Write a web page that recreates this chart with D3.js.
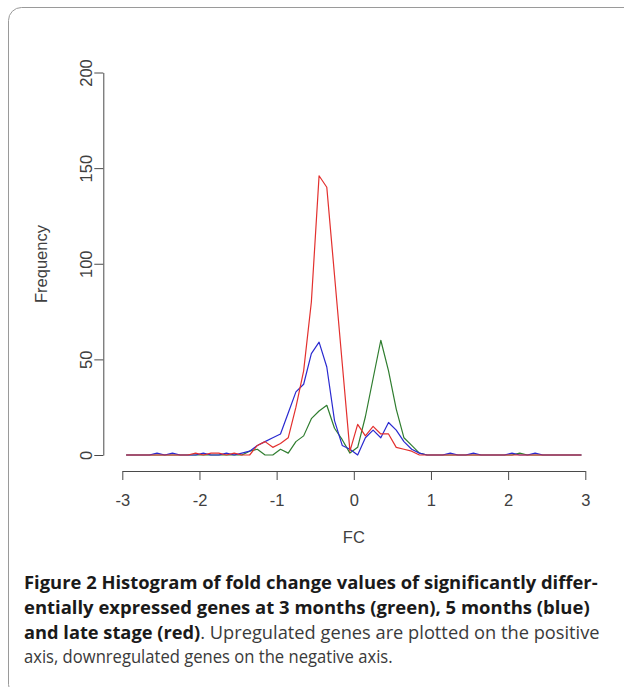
<!DOCTYPE html>
<html lang="en">
<head>
<meta charset="UTF-8">
<title>Figure 2 - Histogram of fold change values</title>
<style>
    body {
        margin: 0;
        padding: 0;
        background: #fff;
    }
    svg {
        display: block;
    }
    .axis path,
    .axis line {
        fill: none;
        stroke: #4a4a4a;
        stroke-width: 1;
    }
    .axis text {
        font-family: "Liberation Sans", Arial, sans-serif;
        font-size: 16.5px;
        fill: #404040;
    }
    .series {
        fill: none;
        stroke-width: 1.2;
        stroke-linejoin: round;
    }
</style>
</head>
<body>
<svg id="chart" width="624" height="687"></svg>

<script src="https://d3js.org/d3.v7.min.js"></script>
<script>
// bin midpoints of the fold change histogram, -2.95 .. 2.95
const binMids = [
    -2.95, -2.85, -2.75, -2.65, -2.55, -2.45, -2.35, -2.25, -2.15, -2.05,
    -1.95, -1.85, -1.75, -1.65, -1.55, -1.45, -1.35, -1.25, -1.15, -1.05,
    -0.95, -0.85, -0.75, -0.65, -0.55, -0.45, -0.35, -0.25, -0.15, -0.05,
     0.05,  0.15,  0.25,  0.35,  0.45,  0.55,  0.65,  0.75,  0.85,  0.95,
     1.05,  1.15,  1.25,  1.35,  1.45,  1.55,  1.65,  1.75,  1.85,  1.95,
     2.05,  2.15,  2.25,  2.35,  2.45,  2.55,  2.65,  2.75,  2.85,  2.95
];

// 3 months (green)
const months3 = [
    0, 0, 0, 0, 0, 0, 0, 0, 0, 0,
    0, 0, 0, 0, 0, 0, 2, 3, 0, 0,
    3, 1, 7, 10, 19, 23, 26, 14, 8, 1,
    4, 20, 40, 60, 44, 24, 9, 5, 1, 0,
    0, 0, 0, 0, 0, 0, 0, 0, 0, 0,
    0, 1, 0, 0, 0, 0, 0, 0, 0, 0
];

// 5 months (blue)
const months5 = [
    0, 0, 0, 0, 1, 0, 1, 0, 0, 0,
    1, 0, 0, 1, 0, 1, 2, 5, 7, 9,
    11, 22, 33, 37, 53, 59, 46, 18, 5, 3,
    0, 9, 13, 9, 17, 13, 7, 3, 1, 0,
    0, 0, 1, 0, 0, 1, 0, 0, 0, 0,
    1, 0, 0, 1, 0, 0, 0, 0, 0, 0
];

// late stage (red)
const lateStage = [
    0, 0, 0, 0, 0, 0, 0, 0, 0, 1,
    0, 1, 1, 0, 1, 0, 0, 5, 7, 4,
    6, 9, 25, 44, 80, 146, 140, 94, 48, 2,
    16, 10, 15, 11, 11, 4, 3, 2, 0, 0,
    0, 0, 0, 0, 0, 0, 0, 0, 0, 0,
    0, 0, 0, 0, 0, 0, 0, 0, 0, 0
];

const xTicks = [-3, -2, -1, 0, 1, 2, 3];
const yTicks = [0, 50, 100, 150, 200];

const captionLines = [
    [{ text: "Figure 2 Histogram of fold change values of significantly differ-", bold: true }],
    [{ text: "entially expressed genes at 3 months (green), 5 months (blue)", bold: true }],
    [{ text: "and late stage (red)", bold: true },
     { text: ". Upregulated genes are plotted on the positive", bold: false }],
    [{ text: "axis, downregulated genes on the negative axis.", bold: false }]
];

const svg = d3.select("#chart");

// panel frame, runs off the right and bottom of the picture
svg.append("rect")
    .attr("x", 8.5)
    .attr("y", 7.5)
    .attr("width", 660)
    .attr("height", 690)
    .attr("rx", 13)
    .attr("fill", "none")
    .attr("stroke", "#9a9a9a")
    .attr("stroke-width", 1);

const x = d3.scaleLinear().domain([-3, 3]).range([122.3, 585.3]);
const y = d3.scaleLinear().domain([0, 200]).range([455, 72.5]);

// x axis
const xAxis = svg.append("g")
    .attr("class", "axis")
    .attr("transform", "translate(0,471)")
    .call(d3.axisBottom(x).tickValues(xTicks).tickSize(9).tickSizeOuter(0)
        .tickFormat(d => d < 0 ? "-" + Math.abs(d) : d));
xAxis.selectAll(".tick text").attr("dy", null).attr("y", 35);

// y axis
const yAxis = svg.append("g")
    .attr("class", "axis")
    .attr("transform", "translate(103.3,0)")
    .call(d3.axisLeft(y).tickValues(yTicks).tickSize(9).tickSizeOuter(0));
yAxis.selectAll(".tick text")
    .attr("x", null).attr("dy", null)
    .attr("text-anchor", "middle")
    .attr("transform", "translate(-11,0) rotate(-90)");

// axis titles
svg.append("text")
    .attr("x", x(0))
    .attr("y", 543)
    .attr("text-anchor", "middle")
    .style("font-family", "'Liberation Sans', Arial, sans-serif")
    .style("font-size", "16.5px")
    .style("fill", "#404040")
    .text("FC");

svg.append("text")
    .attr("transform", "translate(47,264) rotate(-90)")
    .attr("text-anchor", "middle")
    .style("font-family", "'Liberation Sans', Arial, sans-serif")
    .style("font-size", "16.5px")
    .style("fill", "#404040")
    .text("Frequency");

// frequency polygons
const series = [
    { values: months3, color: "#2f7d2f" },
    { values: months5, color: "#2a2ad0" },
    { values: lateStage, color: "#e3302e" }
];

const line = d3.line()
    .x((d, i) => x(binMids[i]))
    .y(d => y(d));

svg.selectAll("path.series")
    .data(series)
    .enter().append("path")
    .attr("class", "series")
    .attr("stroke", d => d.color)
    .attr("d", d => line(d.values));

// caption, each line squeezed to the width it has in the figure
const captionLeft = 24;
const captionWidths = [574, 566, 576, 369];
const capG = svg.append("g");

captionLines.forEach((parts, i) => {
    const t = capG.append("text")
        .attr("x", 0)
        .attr("y", 0)
        .style("font-family", "'Open Sans', 'Noto Sans', sans-serif")
        .style("font-size", "17.5px");
    parts.forEach(p => {
        t.append("tspan")
            .style("font-weight", p.bold ? "700" : "400")
            .style("fill", p.bold ? "#1a1a1a" : "#3a3a3a")
            .text(p.text);
    });
    const w = t.node().getComputedTextLength();
    const sx = captionWidths[i] / w;
    t.attr("transform", `translate(${captionLeft},${589 + i * 24.8}) scale(${sx},1)`);
});
</script>
</body>
</html>
